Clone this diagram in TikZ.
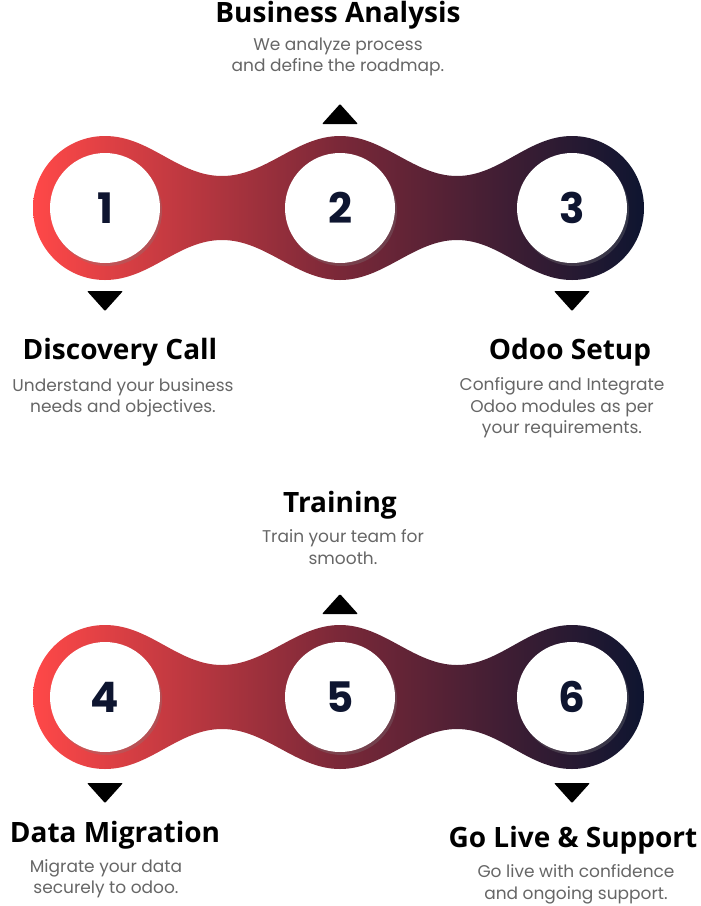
\documentclass[tikz,border=0pt]{standalone}
\usepackage{fontspec}
\setmainfont{Open Sans}
\newfontfamily\popf{Poppins}
\usetikzlibrary{shadows}
\definecolor{rd}{HTML}{FF4848}
\definecolor{mr}{HTML}{7A2838}
\definecolor{nv}{HTML}{0E1530}
\definecolor{gr}{HTML}{666666}
\tikzset{
 ttl/.style={font=\fontsize{28}{30}\selectfont\bfseries, text=black, anchor=center},
 sub/.style={font=\popf\fontsize{17}{21.5}\selectfont, text=gr, align=center, anchor=north},
 num/.style={circle, fill=white, minimum size=110pt, inner sep=0pt, drop shadow={shadow xshift=2pt, shadow yshift=-3pt, opacity=0.3}, font=\popf\bfseries\fontsize{42}{42}\selectfont, text=nv},
 tri/.style={fill=black, rounded corners=1pt},
}
\newcommand{\myband}[1]{%
 \shade[left color=rd, right color=nv, middle color=mr, shading angle=90]
 (105,#1-72) .. controls (150,#1-72) and (178,#1-32) .. (222,#1-32)
 .. controls (266,#1-32) and (296,#1-72) .. (340,#1-72)
 .. controls (384,#1-72) and (414,#1-32) .. (457,#1-32)
 .. controls (500,#1-32) and (528,#1-72) .. (572,#1-72)
 arc[start angle=-90, end angle=90, radius=72]
 .. controls (528,#1+72) and (500,#1+32) .. (457,#1+32)
 .. controls (414,#1+32) and (384,#1+72) .. (340,#1+72)
 .. controls (296,#1+72) and (266,#1+32) .. (222,#1+32)
 .. controls (178,#1+32) and (150,#1+72) .. (105,#1+72)
 arc[start angle=90, end angle=270, radius=72] -- cycle;}
\begin{document}
\begin{tikzpicture}[x=1pt,y=-1pt]
\useasboundingbox (0,0) rectangle (701,906);
\myband{208}
\myband{697}
\node[num] (n1) at (105,208) {1};
\node[num] (n2) at (340,208) {2};
\node[num] (n3) at (572,208) {3};
\node[num] (n4) at (105,697) {4};
\node[num] (n5) at (340,697) {5};
\node[num] (n6) at (572,697) {6};
\fill[tri] (322,124) -- (358,124) -- (340,104) -- cycle;
\fill[tri] (87,291) -- (123,291) -- (105,311) -- cycle;
\fill[tri] (554,291) -- (590,291) -- (572,311) -- cycle;
\fill[tri] (322,614) -- (358,614) -- (340,594) -- cycle;
\fill[tri] (87,783) -- (123,783) -- (105,803) -- cycle;
\fill[tri] (554,783) -- (590,783) -- (572,803) -- cycle;
\node[ttl] (t2) at (338,15) {Business Analysis};
\node[sub] (s2) at (338,34) {We analyze process\\and define the roadmap.};
\node[ttl] (t1) at (120,352) {Discovery Call};
\node[sub] (s1) at (123,375) {Understand your business\\needs and objectives.};
\node[ttl] (t3) at (570,352) {Odoo Setup};
\node[sub] (s3) at (562,374) {Configure and Integrate\\Odoo modules as per\\your requirements.};
\node[ttl] (t5) at (340,505) {Training};
\node[sub] (s5) at (343,526) {Train your team for\\smooth.};
\node[ttl] (t4) at (115,835) {Data Migration};
\node[sub] (s4) at (106,856) {Migrate your data\\securely to odoo.};
\node[ttl] (t6) at (573,840) {Go Live \& Support};
\node[sub] (s6) at (576,861) {Go live with confidence\\and ongoing support.};
\end{tikzpicture}
\end{document}
